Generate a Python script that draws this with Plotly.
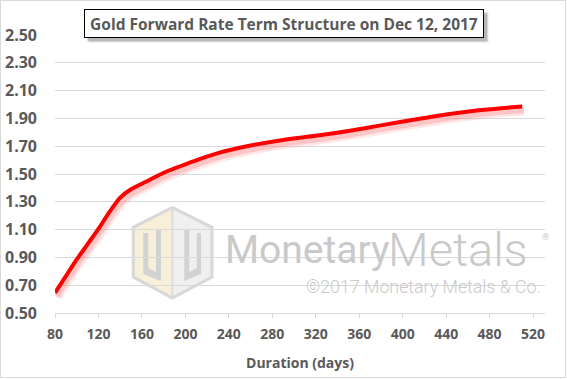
import plotly.graph_objects as go

# ---- data ----
days = [80, 90, 100, 110, 120, 130, 140, 150, 160, 170, 185, 200, 230, 260,
        290, 320, 350, 380, 410, 440, 470, 500, 510]
rates = [0.645, 0.765, 0.885, 0.995, 1.105, 1.225, 1.33, 1.39, 1.43, 1.47,
         1.525, 1.57, 1.65, 1.705, 1.745, 1.775, 1.81, 1.85, 1.89, 1.928,
         1.958, 1.98, 1.985]
x_ticks = [80, 120, 160, 200, 240, 280, 320, 360, 400, 440, 480, 520]
y_ticks = [0.5, 0.7, 0.9, 1.1, 1.3, 1.5, 1.7, 1.9, 2.1, 2.3, 2.5]
title_text = "Gold Forward Rate Term Structure on Dec 12, 2017"
x_title = "Duration (days)"

# ---- layout geometry ----
W, H = 567, 379
L, R, T, B = 55, 22, 35, 66
PW, PH = W - L - R, H - T - B
X_RANGE = [80, 531]
Y_RANGE = [0.5, 2.5]
px_per_day = PW / (X_RANGE[1] - X_RANGE[0])
px_per_unit = PH / (Y_RANGE[1] - Y_RANGE[0])


def fx(p):
    return (p - L) / PW


def fy(p):
    return (H - B - p) / PH


TXT = "#595959"
GRID = "#d9d9d9"
FONT = "Open Sans"

fig = go.Figure()

# carrier trace on the base axes (invisible) so the axes/grid are drawn
fig.add_trace(go.Scatter(x=days, y=rates, mode="lines", xaxis="x", yaxis="y",
                         line=dict(color="rgba(0,0,0,0)", width=1),
                         hoverinfo="skip", showlegend=False))
# shadow (offset axes)
sdx = 2 / px_per_day
sdy = 4 / px_per_unit
fig.add_trace(go.Scatter(x=days, y=rates, mode="lines", xaxis="x2", yaxis="y2",
                         line=dict(color="rgba(255,120,120,0.18)", width=10, shape="spline", smoothing=0.6),
                         hoverinfo="skip", showlegend=False))
fig.add_trace(go.Scatter(x=days, y=rates, mode="lines", xaxis="x2", yaxis="y2",
                         line=dict(color="rgba(255,120,120,0.30)", width=5, shape="spline", smoothing=0.6),
                         hoverinfo="skip", showlegend=False))
# main line
fig.add_trace(go.Scatter(x=days, y=rates, mode="lines", xaxis="x3", yaxis="y3",
                         line=dict(color="#ff0000", width=4, shape="spline", smoothing=0.6),
                         showlegend=False))

fig.update_layout(
    width=W, height=H,
    margin=dict(l=L, r=R, t=T, b=B),
    paper_bgcolor="white",
    plot_bgcolor="rgba(0,0,0,0)",
    font=dict(family=FONT, color=TXT),
    showlegend=False,
    xaxis=dict(range=X_RANGE, tickvals=x_ticks, ticktext=[str(v) for v in x_ticks],
               showgrid=False, zeroline=False, showline=True, linecolor=GRID, linewidth=1,
               ticks="outside", ticklen=4, tickcolor=GRID, ticklabelstandoff=4,
               automargin=False,
               tickfont=dict(family=FONT, size=14, color=TXT, weight="bold"),
               title=dict(text=x_title, standoff=16,
                          font=dict(family=FONT, size=14, color=TXT, weight="bold"))),
    yaxis=dict(range=Y_RANGE, tickvals=y_ticks, ticktext=["%.2f" % v for v in y_ticks],
               showgrid=True, gridcolor=GRID, gridwidth=1, zeroline=False, showline=False,
               ticks="", ticklabelstandoff=17, automargin=False,
               tickfont=dict(family=FONT, size=16, color=TXT, weight="bold")),
    xaxis2=dict(overlaying="x", range=[X_RANGE[0] - sdx, X_RANGE[1] - sdx], visible=False),
    yaxis2=dict(overlaying="y", range=[Y_RANGE[0] + sdy, Y_RANGE[1] + sdy], visible=False),
    xaxis3=dict(overlaying="x", range=X_RANGE, visible=False),
    yaxis3=dict(overlaying="y", range=Y_RANGE, visible=False),
)

shapes = []
# outer border of the picture
shapes.append(dict(type="rect", xref="paper", yref="paper",
                   x0=fx(0.5), x1=fx(W - 1.5), y0=fy(H - 1.5), y1=fy(0.5),
                   line=dict(color=GRID, width=1), fillcolor="rgba(0,0,0,0)", layer="above"))

# logo hexagon
top = (172.3, 207.5); ul = (133.3, 227.3); ll = (133.3, 277.0)
bot = (172.3, 298.0); lr = (212.0, 277.0); ur = (212.0, 227.3)


def path(points):
    s = "M " + " L ".join("%.4f,%.4f" % (fx(a), fy(b)) for a, b in points) + " Z"
    return s


shapes.append(dict(type="path", xref="paper", yref="paper", path=path([top, ul, ll, bot]),
                   fillcolor="#f7efd7", line=dict(width=0), layer="below"))
shapes.append(dict(type="path", xref="paper", yref="paper", path=path([top, ur, lr, bot]),
                   fillcolor="#efefef", line=dict(width=0), layer="below"))
shapes.append(dict(type="path", xref="paper", yref="paper", path=path([top, ul, ll, bot, lr, ur]),
                   fillcolor="rgba(0,0,0,0)", line=dict(color="#d8d8d8", width=3), layer="below"))
shapes.append(dict(type="path", xref="paper", yref="paper",
                   path="M %.4f,%.4f L %.4f,%.4f" % (fx(top[0]), fy(top[1]), fx(bot[0]), fy(bot[1])),
                   line=dict(color="#dcdcdc", width=2), layer="below"))
shapes.append(dict(type="path", xref="paper", yref="paper",
                   path=path([(143.3, 233), (148.3, 233), (148.3, 268), (156, 272), (156, 229),
                              (161, 229), (161, 281), (143.3, 274)]),
                   fillcolor="#d2d2d2", line=dict(width=0), layer="below"))
shapes.append(dict(type="path", xref="paper", yref="paper",
                   path=path([(184.3, 229), (189.3, 229), (189.3, 272), (196.7, 268), (196.7, 233),
                              (201, 233), (201, 274), (184.3, 281)]),
                   fillcolor="#d2d2d2", line=dict(width=0), layer="below"))

# title box shadow
for off, op in [(5, 0.06), (4, 0.10), (3, 0.14)]:
    shapes.append(dict(type="rect", xref="paper", yref="paper",
                       x0=fx(84 + off), x1=fx(484 + off), y0=fy(38 + off), y1=fy(9 + off),
                       line=dict(width=0), fillcolor="rgba(0,0,0,%.2f)" % op, layer="above"))
fig.update_layout(shapes=shapes)

ann = []
ann.append(dict(text=title_text, xref="paper", yref="paper", x=fx(284), y=fy(23.5),
                xanchor="center", yanchor="middle", showarrow=False,
                font=dict(family=FONT, size=15.5, color=TXT, weight="bold"),
                bgcolor="white", bordercolor="black", borderwidth=1, borderpad=1,
                width=396, height=25))
WM = "#c9c9c9"
ann.append(dict(text="Monetary", xref="paper", yref="paper", x=fx(223), y=fy(250),
                xanchor="left", yanchor="middle", showarrow=False,
                font=dict(family="Roboto", size=39, color=WM, weight=400)))
ann.append(dict(text="Metals", xref="paper", yref="paper", x=fx(386), y=fy(249),
                xanchor="left", yanchor="middle", showarrow=False,
                font=dict(family="Roboto", size=47, color=WM, weight=300)))
ann.append(dict(text="®", xref="paper", yref="paper", x=fx(545), y=fy(237),
                xanchor="center", yanchor="middle", showarrow=False,
                font=dict(family="Roboto", size=9, color=WM)))
ann.append(dict(text="©2017 Monetary Metals & Co.", xref="paper", yref="paper",
                x=fx(543), y=fy(286.5), xanchor="right", yanchor="middle", showarrow=False,
                font=dict(family="Roboto", size=17.8, color=WM, weight=300)))
fig.update_layout(annotations=ann)

fig.write_html("out.html", config={"displayModeBar": False},
               post_script="document.body.style.margin='0';")
